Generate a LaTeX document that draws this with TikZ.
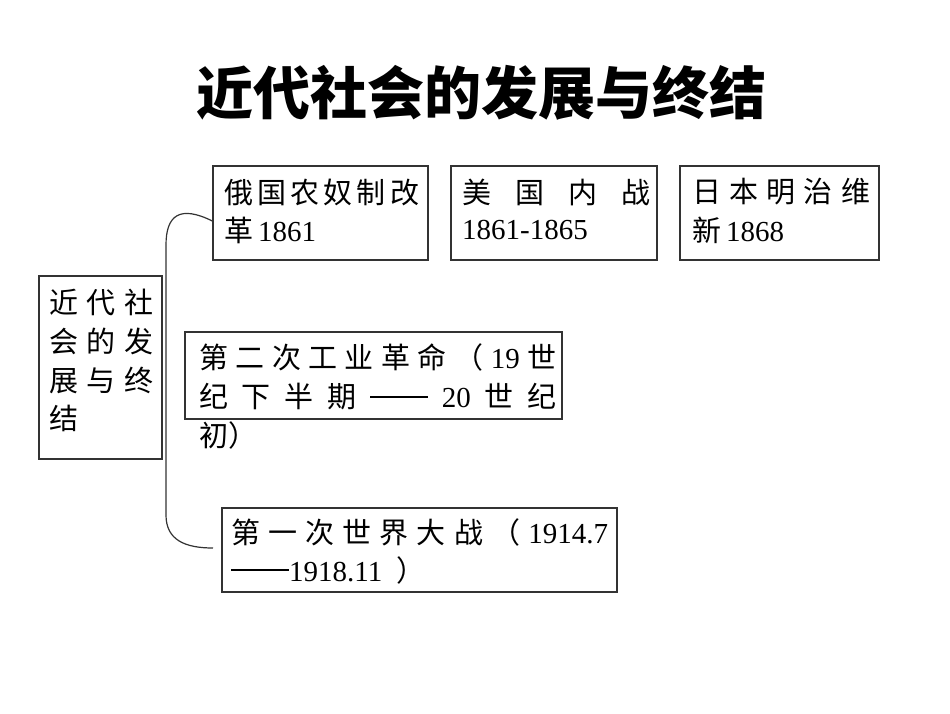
\documentclass[tikz,border=0pt]{standalone}
\usepackage{fontspec}
\setmainfont{Liberation Serif}
\newfontfamily\cjk{Noto Sans CJK SC}
\newcommand\zh[1]{{\cjk #1}}
\newcommand\spr[2]{\makebox[#1pt]{#2}}
\newcommand\ddash{\rule[0.36em]{2em}{0.05em}}
\begin{document}
\begin{tikzpicture}[x=1pt,y=-1pt,
  box/.style={draw=black!80, line width=1.3pt, inner sep=0pt, rectangle},
  txt/.style={anchor=west, inner sep=0pt, font=\fontsize{29pt}{34pt}\selectfont},
  conn/.style={draw=black!80, line width=1.2pt}]
\path[fill=white,use as bounding box] (0,0) rectangle (950,713);

\node[inner sep=0pt, font=\cjk\bfseries\fontsize{57pt}{60pt}\selectfont] (title) at (481,93) {近代社会的发展与终结};

% boxes
\node[box, minimum width=215pt, minimum height=94pt] (A) at (320.5,213) {};
\node[box, minimum width=206pt, minimum height=94pt] (B) at (554,213) {};
\node[box, minimum width=199pt, minimum height=94pt] (C) at (779.5,213) {};
\node[box, minimum width=123pt, minimum height=183pt] (L) at (100.5,367.5) {};
\node[box, minimum width=377pt, minimum height=87pt] (D) at (373.5,375.5) {};
\node[box, minimum width=395pt, minimum height=84pt] (E) at (419.5,550) {};

% texts
\node[txt] (a1) at (224,192) {\spr{195}{\zh{俄}\hfill\zh{国}\hfill\zh{农}\hfill\zh{奴}\hfill\zh{制}\hfill\zh{改}}};
\node[txt] (a2) at (224,230) {\zh{革}\,1861};
\node[txt] (b1) at (462,192) {\spr{188}{\zh{美}\hfill\zh{国}\hfill\zh{内}\hfill\zh{战}}};
\node[txt] (b2) at (462,230) {1861-1865};
\node[txt] (c1) at (692,192) {\spr{178}{\zh{日}\hfill\zh{本}\hfill\zh{明}\hfill\zh{治}\hfill\zh{维}}};
\node[txt] (c2) at (692,230) {\zh{新}\,1868};
\node[txt] (l1) at (49,302) {\spr{104}{\zh{近}\hfill\zh{代}\hfill\zh{社}}};
\node[txt] (l2) at (49,341) {\spr{104}{\zh{会}\hfill\zh{的}\hfill\zh{发}}};
\node[txt] (l3) at (49,380) {\spr{104}{\zh{展}\hfill\zh{与}\hfill\zh{终}}};
\node[txt] (l4) at (49,418) {\zh{结}};
\node[txt] (d1) at (199,357) {\spr{357}{\zh{第}\hfill\zh{二}\hfill\zh{次}\hfill\zh{工}\hfill\zh{业}\hfill\zh{革}\hfill\zh{命}\hfill\zh{（}\hfill 19\hfill\zh{世}}};
\node[txt] (d2) at (199,397) {\spr{357}{\zh{纪}\hfill\zh{下}\hfill\zh{半}\hfill\zh{期}\hfill\ddash\hfill 20\hfill\zh{世}\hfill\zh{纪}}};
\node[txt] (d3) at (199,435) {\zh{初）}};
\node[txt] (e1) at (231,532) {\spr{377}{\zh{第}\hfill\zh{一}\hfill\zh{次}\hfill\zh{世}\hfill\zh{界}\hfill\zh{大}\hfill\zh{战}\hfill\zh{（}\hfill 1914.7}};
\node[txt] (e2) at (231,570) {\ddash 1918.11\enspace\zh{）}};

% connector
\coordinate (eend) at (213,548);
\draw[conn] ([yshift=-8pt]A.west) .. controls (180,205) and (166,215) .. (166,245)
  -- (166,515) .. controls (166,540) and (185,548) .. (eend);
\end{tikzpicture}
\end{document}
